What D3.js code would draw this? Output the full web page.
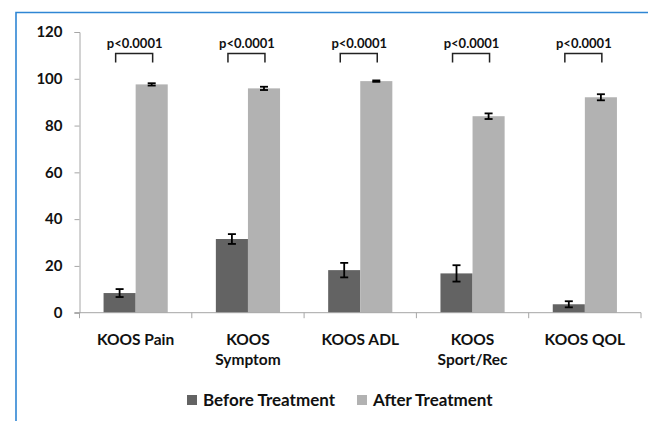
<!DOCTYPE html>
<html>
<head>
<meta charset="utf-8">
<script src="https://cdn.jsdelivr.net/npm/d3@7"></script>
<style>
  html, body { margin: 0; padding: 0; background: #fff; }
  svg { display: block; }
  text { font-family: Lato, "Open Sans", sans-serif; font-weight: 700; fill: #111; }
</style>
</head>
<body>
<svg id="chart" width="648" height="421"></svg>
<script>
// KOOS subscale scores (mean ± SE) before and after treatment
const categories = ["KOOS Pain", "KOOS\nSymptom", "KOOS ADL", "KOOS\nSport/Rec", "KOOS QOL"];
const series = ["Before Treatment", "After Treatment"];
const beforeValues = [8.4, 31.5, 18.2, 16.8, 3.6];
const beforeErrors = [1.7, 2.1, 3.1, 3.5, 1.3];
const afterValues = [97.6, 95.9, 99.0, 84.0, 92.1];
const afterErrors = [0.5, 0.7, 0.3, 1.2, 1.3];
const pLabels = ["p<0.0001", "p<0.0001", "p<0.0001", "p<0.0001", "p<0.0001"];
const yTicks = [0, 20, 40, 60, 80, 100, 120];

const colors = { "Before Treatment": "#636363", "After Treatment": "#b2b2b2" };

const svg = d3.select("#chart");

// blue frame (left and top edges)
svg.append("path")
  .attr("d", "M16,421 V12.5 H648")
  .attr("fill", "none")
  .attr("stroke", "#2f86d4")
  .attr("stroke-width", 1.6);

const plot = { left: 79.5, right: 641, top: 32, bottom: 312.7 };

const x = d3.scaleBand()
  .domain(categories)
  .range([plot.left, plot.right])
  .padding(0);

const xs = d3.scaleBand()
  .domain(series)
  .range([0, x.bandwidth()])
  .paddingInner(0)
  .paddingOuter(0.75);

const y = d3.scaleLinear()
  .domain([0, 120])
  .range([plot.bottom, plot.top]);

const rows = categories.map((c, i) => ({
  cat: c,
  bars: [
    { s: series[0], v: beforeValues[i], e: beforeErrors[i] },
    { s: series[1], v: afterValues[i], e: afterErrors[i] }
  ],
  p: pLabels[i]
}));

// y axis
const yAxis = svg.append("g")
  .attr("transform", `translate(${plot.left},0)`)
  .call(d3.axisLeft(y).tickValues(yTicks).tickSize(5).tickPadding(12));
yAxis.select(".domain").attr("stroke", "#a6a6a6");
yAxis.selectAll(".tick line").attr("stroke", "#a6a6a6");
yAxis.selectAll(".tick text")
  .attr("font-size", 15)
  .attr("font-family", "Lato, sans-serif")
  .attr("font-weight", 700)
  .attr("fill", "#111");

// bars
const groups = svg.append("g").selectAll("g")
  .data(rows).join("g")
  .attr("transform", d => `translate(${x(d.cat)},0)`);

groups.selectAll("rect")
  .data(d => d.bars).join("rect")
  .attr("x", b => xs(b.s))
  .attr("y", b => y(b.v))
  .attr("width", xs.bandwidth())
  .attr("height", b => y(0) - y(b.v))
  .attr("fill", b => colors[b.s]);

// error bars
const eb = groups.selectAll("g.err")
  .data(d => d.bars).join("g")
  .attr("class", "err")
  .attr("transform", b => `translate(${xs(b.s) + xs.bandwidth() / 2},0)`)
  .attr("stroke", "#000")
  .attr("stroke-width", 1.8);
eb.append("line")
  .attr("y1", b => y(b.v + b.e)).attr("y2", b => y(b.v - b.e));
eb.append("line")
  .attr("x1", -4).attr("x2", 4)
  .attr("y1", b => y(b.v + b.e)).attr("y2", b => y(b.v + b.e));
eb.append("line")
  .attr("x1", -4).attr("x2", 4)
  .attr("y1", b => y(b.v - b.e)).attr("y2", b => y(b.v - b.e));

// x axis
const xAxis = svg.append("g")
  .attr("transform", `translate(0,${plot.bottom})`);
xAxis.append("line")
  .attr("x1", plot.left - 5).attr("x2", plot.right)
  .attr("stroke", "#a6a6a6");
xAxis.selectAll("line.tick")
  .data(categories.map(c => x(c)).concat([plot.right])).join("line")
  .attr("class", "tick")
  .attr("x1", d => d).attr("x2", d => d)
  .attr("y1", 0).attr("y2", 5.5)
  .attr("stroke", "#a6a6a6");

// category labels
const catText = svg.append("g").selectAll("text")
  .data(categories).join("text")
  .attr("x", c => x(c) + x.bandwidth() / 2)
  .attr("y", 345)
  .attr("text-anchor", "middle")
  .attr("font-size", 15.5);
catText.selectAll("tspan")
  .data(c => c.split("\n")).join("tspan")
  .attr("x", function () { return d3.select(this.parentNode).attr("x"); })
  .attr("dy", (t, i) => i === 0 ? 0 : 20)
  .text(t => t);

// significance brackets
const sig = groups.append("g");
sig.append("path")
  .attr("d", d => {
    const c = x.bandwidth() / 2;
    const x0 = c - 20, x1 = c + 17;
    return `M${x0},62.5 V53.5 H${x1} V62.5`;
  })
  .attr("fill", "none")
  .attr("stroke", "#222")
  .attr("stroke-width", 1.5);
sig.append("text")
  .attr("x", x.bandwidth() / 2 - 1)
  .attr("y", 48)
  .attr("text-anchor", "middle")
  .attr("font-size", 13)
  .text(d => d.p);

// legend
const legendItems = [
  { s: series[0], x: 187 },
  { s: series[1], x: 357 }
];
const lg = svg.append("g").selectAll("g")
  .data(legendItems).join("g")
  .attr("transform", d => `translate(${d.x},395)`);
lg.append("rect")
  .attr("width", 10).attr("height", 10)
  .attr("fill", d => colors[d.s]);
lg.append("text")
  .attr("x", 16).attr("y", 10.5)
  .attr("font-size", 17)
  .text(d => d.s);
</script>
</body>
</html>
